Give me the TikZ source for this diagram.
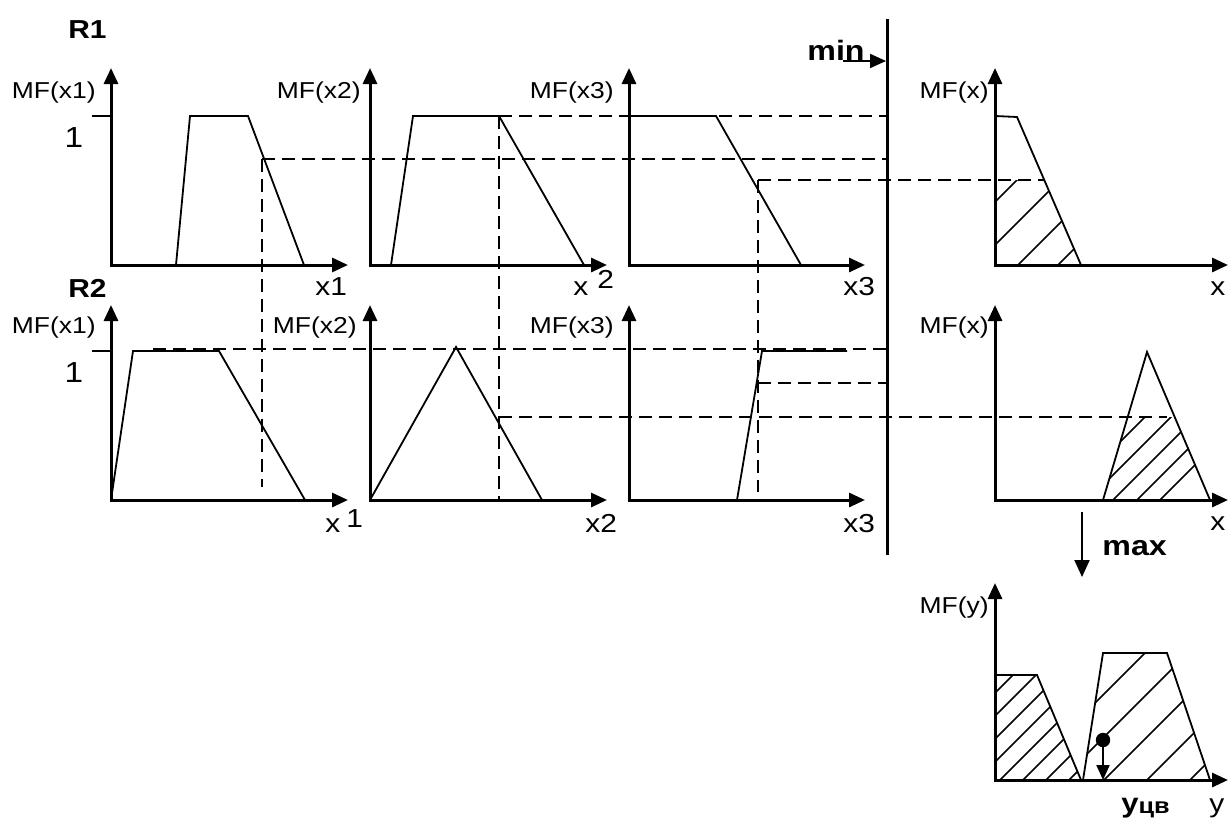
\documentclass[tikz,border=0pt]{standalone}
\usepackage{fontspec}
\setmainfont[FakeStretch=1.15]{Liberation Sans}
\usetikzlibrary{arrows.meta}
\begin{document}
\begin{tikzpicture}[x=0.5pt,y=-0.5pt,
 axis/.style={line width=1.5pt,line join=miter,{Triangle[width=7pt,length=8pt]}-{Triangle[width=7pt,length=8pt]}},
 mf/.style={line width=0.9pt,line join=miter},
 guide/.style={line width=1.25pt,dash pattern=on 6.5pt off 3.5pt},
 hatch/.style={line width=0.8pt},
 tickmark/.style={line width=0.9pt},
 ptr/.style={line width=1pt,-{Triangle[width=7pt,length=8pt]}},
 mflbl/.style={inner sep=0pt,font=\fontsize{11.5}{13}\selectfont},
 axlbl/.style={inner sep=0pt,font=\fontsize{13}{15}\selectfont},
 onelbl/.style={inner sep=0pt,font=\fontsize{14.5}{16}\selectfont},
 rlbl/.style={inner sep=0pt,font=\fontsize{13}{15}\selectfont\bfseries},
 oplbl/.style={inner sep=0pt,font=\fontsize{14}{16}\selectfont\bfseries},
]
\useasboundingbox (0,0) rectangle (1229,819);

% ---------- hatching ----------
\begin{scope}
\clip (995,265) -- (995,180) -- (1044.5,180) -- (1081,265) -- cycle;
\foreach \c in {1197,1240,1283,1323} \draw[hatch] ({\c-300},300) -- ({\c-100},100);
\end{scope}
\begin{scope}
\clip (1103,500) -- (1127.7,417) -- (1174.7,417) -- (1210,500) -- cycle;
\foreach \c in {1562,1588,1613,1637,1660} \draw[hatch] ({\c-600},600) -- ({\c-300},300);
\end{scope}
\begin{scope}
\clip (995,780) -- (995,675) -- (1037,675) -- (1081,780) -- cycle;
\foreach \c in {1688,1711,...,1849} \draw[hatch] ({\c-850},850) -- ({\c-600},600);
\end{scope}
\begin{scope}
\clip (1083,780) -- (1103,653) -- (1167,653) -- (1210,780) -- cycle;
\foreach \c in {1798,1841,1884,1927,1970} \draw[hatch] ({\c-850},850) -- ({\c-600},600);
\end{scope}

% ---------- membership functions ----------
\draw[mf] (176,265) -- (190,116) -- (248,116) -- (304,265);
\draw[mf] (391,265) -- (413,116) -- (499,116) -- (584,265);
\draw[mf] (629,116) -- (716,116) -- (801,265);
\draw[mf] (995,116) -- (1017,117) -- (1081,265);
\draw[mf] (111,500) -- (133,351) -- (219,351) -- (305,500);
\draw[mf] (370,500) -- (456,347) -- (542,500);
\draw[mf] (737,500) -- (762,351) -- (847,351);
\draw[mf] (1103,500) -- (1147,352) -- (1210,500);
\draw[mf] (995,675) -- (1037,675) -- (1081,780);
\draw[mf] (1083,780) -- (1103,653) -- (1167,653) -- (1210,780);

% ---------- dashed guides ----------
\draw[guide] (262,159) -- (887,159);
\draw[guide] (262,159) -- (262,487);
\draw[guide] (499,116) -- (887,116);
\draw[guide] (499,116) -- (499,500);
\draw[guide] (758,180) -- (1044,180);
\draw[guide] (758,180) -- (758,492);
\draw[guide] (153,349) -- (887,349);
\draw[guide] (499,417) -- (1167,417);
\draw[guide] (758,383) -- (887,383);

% ---------- axes ----------
\coordinate (y11) at (111,68);  \coordinate (o11) at (111,265); \coordinate (x11) at (348,265);
\coordinate (y12) at (370,68);  \coordinate (o12) at (370,265); \coordinate (x12) at (607,265);
\coordinate (y13) at (629,68);  \coordinate (o13) at (629,265); \coordinate (x13) at (865,265);
\coordinate (y14) at (995,68);  \coordinate (o14) at (995,265); \coordinate (x14) at (1228,265);
\coordinate (y21) at (111,305); \coordinate (o21) at (111,500); \coordinate (x21) at (348,500);
\coordinate (y22) at (370,305); \coordinate (o22) at (370,500); \coordinate (x22) at (607,500);
\coordinate (y23) at (629,305); \coordinate (o23) at (629,500); \coordinate (x23) at (865,500);
\coordinate (y24) at (995,305); \coordinate (o24) at (995,500); \coordinate (x24) at (1228,500);
\coordinate (y5) at (995,583);  \coordinate (o5) at (995,780);  \coordinate (x5) at (1228,780);
\foreach \a in {11,12,13,14,21,22,23,24,5} \draw[axis] (y\a) -- (o\a) -- (x\a);

% ticks at level 1
\coordinate (t1a) at (92,116); \coordinate (t1b) at (111,116);
\coordinate (t2a) at (92,351); \coordinate (t2b) at (111,351);
\draw[tickmark] (t1a) -- (t1b);
\draw[tickmark] (t2a) -- (t2b);

% min line and arrows
\coordinate (mtop) at (887,19); \coordinate (mbot) at (887,555);
\draw[line width=1.5pt] (mtop) -- (mbot);
\coordinate (minA) at (843,61); \coordinate (minB) at (886,61);
\draw[ptr] (minA) -- (minB);
\coordinate (maxA) at (1082,512); \coordinate (maxB) at (1082,577);
\draw[line width=1pt,-{Triangle[width=7.5pt,length=8.5pt]}] (maxA) -- (maxB);

% centroid
\coordinate (cg) at (1103,740); \coordinate (cgb) at (1103,780);
\fill (cg) circle[radius=3.6pt];
\draw[line width=1pt,-{Triangle[width=6.5pt,length=7.5pt]}] (cg) -- (cgb);

% ---------- labels ----------
\node[rlbl,anchor=base west] (R1) at (68,38) {R1};
\node[rlbl,anchor=base west] (R2) at (68,297) {R2};
\node[oplbl,anchor=base west] (minl) at (807,60) {min};
\node[oplbl,anchor=base west] (maxl) at (1102,555) {max};

\node[mflbl,anchor=base east] (mf11) at (96,98) {MF(x1)};
\node[mflbl,anchor=base east] (mf12) at (361,98) {MF(x2)};
\node[mflbl,anchor=base east] (mf13) at (614,98) {MF(x3)};
\node[mflbl,anchor=base east] (mf14) at (989,98) {MF(x)};
\node[mflbl,anchor=base east] (mf21) at (96,333) {MF(x1)};
\node[mflbl,anchor=base east] (mf22) at (357,333) {MF(x2)};
\node[mflbl,anchor=base east] (mf23) at (614,333) {MF(x3)};
\node[mflbl,anchor=base east] (mf24) at (989,333) {MF(x)};
\node[mflbl,anchor=base east] (mf5) at (989,613) {MF(y)};

\node[onelbl,anchor=base] (one1) at (74,147) {1};
\node[onelbl,anchor=base] (one2) at (74,382) {1};

\node[axlbl,anchor=base west] (lx11) at (315,295) {x1};
\node[axlbl,anchor=base west] (lx12) at (573,295) {x};
\node[axlbl,anchor=base west] (lx12s) at (597,288) {2};
\node[axlbl,anchor=base west] (lx13) at (843,295) {x3};
\node[axlbl,anchor=base west] (lx14) at (1210,295) {x};
\node[axlbl,anchor=base west] (lx21) at (325,532) {x};
\node[axlbl,anchor=base west] (lx21s) at (346,527) {1};
\node[axlbl,anchor=base west] (lx22) at (585,532) {x2};
\node[axlbl,anchor=base west] (lx23) at (843,532) {x3};
\node[axlbl,anchor=base west] (lx24) at (1210,530) {x};
\node[axlbl,anchor=base west] (ly5) at (1209,812) {y};
\node[inner sep=0pt,anchor=base west,font=\fontsize{13.5}{15}\selectfont\bfseries] (ycg) at (1121,812) {у\raisebox{-0.5pt}{\fontsize{11}{13}\selectfont цв}};
\end{tikzpicture}
\end{document}
